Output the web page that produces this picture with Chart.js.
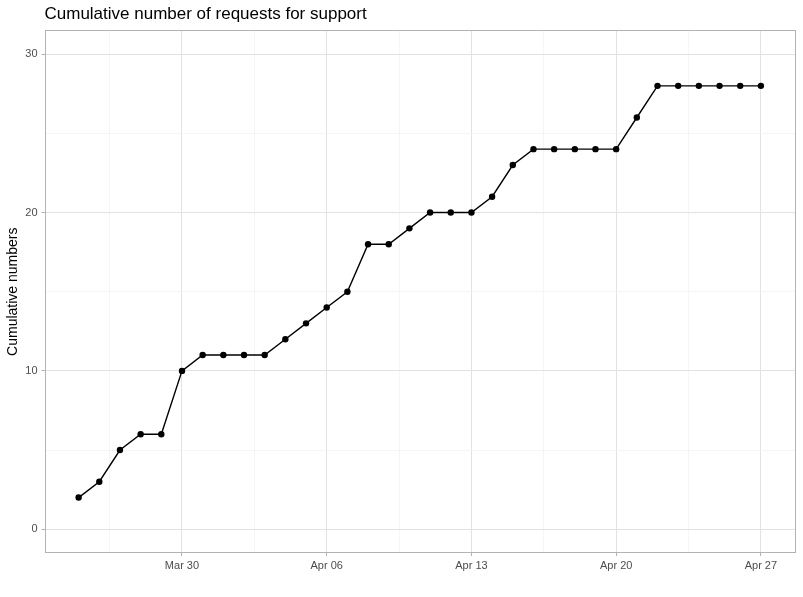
<!DOCTYPE html>
<html>
<head>
<meta charset="utf-8">
<script src="https://cdn.jsdelivr.net/npm/chart.js@4.4.1/dist/chart.umd.min.js"></script>
<style>
html,body{margin:0;padding:0;background:#fff;}
canvas{display:block;}
</style>
</head>
<body>
<canvas id="c" width="803" height="597"></canvas>
<script>
// ---- data ----
const dates = [
  '2020-03-25','2020-03-26','2020-03-27','2020-03-28','2020-03-29','2020-03-30','2020-03-31',
  '2020-04-01','2020-04-02','2020-04-03','2020-04-04','2020-04-05','2020-04-06','2020-04-07',
  '2020-04-08','2020-04-09','2020-04-10','2020-04-11','2020-04-12','2020-04-13','2020-04-14',
  '2020-04-15','2020-04-16','2020-04-17','2020-04-18','2020-04-19','2020-04-20','2020-04-21',
  '2020-04-22','2020-04-23','2020-04-24','2020-04-25','2020-04-26','2020-04-27'
];
const cumulative = [
  2,3,5,6,6,10,11,
  11,11,11,12,13,14,15,
  18,18,19,20,20,20,21,
  23,24,24,24,24,24,26,
  28,28,28,28,28,28
];
const xTickDates = ['2020-03-30','2020-04-06','2020-04-13','2020-04-20','2020-04-27'];
const xTickLabels = ['Mar 30','Apr 06','Apr 13','Apr 20','Apr 27'];
const yTickValues = [0,10,20,30];
const yMinorValues = [5,15,25];
const titleText = 'Cumulative number of requests for support';
const yTitleText = 'Cumulative numbers';

// ---- helpers ----
const DAY = 86400000;
const t0 = Date.parse(dates[0] + 'T00:00:00Z');
const dayOf = s => Math.round((Date.parse(s + 'T00:00:00Z') - t0) / DAY);
const points = dates.map((d, i) => ({x: dayOf(d), y: cumulative[i]}));
const xMajor = xTickDates.map(dayOf);
const xSpacing = xMajor[1] - xMajor[0];
const xFirst = dayOf(dates[0]), xLast = dayOf(dates[dates.length - 1]);
const xExp = (xLast - xFirst) * 0.05;
const xMin = xFirst - xExp, xMax = xLast + xExp;
const xMinor = [];
for (let v = xMajor[0] - xSpacing / 2; v < xMax; v += xSpacing) {
  if (v > xMin) xMinor.push(v);
}
const yLo = 0, yHi = 30, yExp = (yHi - yLo) * 0.05;

const isXMajor = v => xMajor.some(m => Math.abs(m - v) < 1e-6);
const isYMajor = v => yTickValues.some(m => Math.abs(m - v) < 1e-6);

const FONT = "'Liberation Sans', Arial, Helvetica, sans-serif";

const panelBorder = {
  id: 'panelBorder',
  afterLayout(chart) {
    if (chart.titleBlock) {
      chart.titleBlock.left = chart.chartArea.left;
    }
  },
  afterDatasetsDraw(chart) {
    const {ctx, chartArea: a} = chart;
    ctx.save();
    ctx.strokeStyle = '#B3B3B3';
    ctx.lineWidth = 1;
    ctx.strokeRect(Math.round(a.left) + 0.5, Math.round(a.top) + 0.5,
      Math.round(a.right - a.left) - 1, Math.round(a.bottom - a.top) - 1);
    ctx.restore();
  }
};

new Chart(document.getElementById('c'), {
  type: 'line',
  data: {
    datasets: [{
      data: points,
      borderColor: '#000000',
      backgroundColor: '#000000',
      borderWidth: 1.4,
      pointRadius: 3.2,
      pointHoverRadius: 3.2,
      pointBorderWidth: 0,
      pointBackgroundColor: '#000000',
      tension: 0,
      fill: false
    }]
  },
  options: {
    responsive: false,
    animation: false,
    events: [],
    layout: {padding: {left: 0, right: 8, top: 0, bottom: 0}},
    plugins: {
      legend: {display: false},
      tooltip: {enabled: false},
      title: {
        display: true,
        text: titleText,
        align: 'start',
        color: '#000000',
        font: {family: FONT, size: 17, weight: 'normal', lineHeight: 1.2},
        padding: {top: 4, bottom: 6}
      }
    },
    scales: {
      x: {
        type: 'linear',
        min: xMin,
        max: xMax,
        afterBuildTicks(scale) {
          const all = xMajor.concat(xMinor).sort((a, b) => a - b);
          scale.ticks = all.map(v => ({value: v}));
        },
        afterFit(scale) { scale.height = 597 - 553; },
        ticks: {
          autoSkip: false,
          maxRotation: 0,
          color: '#4D4D4D',
          font: {family: FONT, size: 11},
          padding: 3,
          callback(v) {
            const i = xMajor.findIndex(m => Math.abs(m - v) < 1e-6);
            return i >= 0 ? xTickLabels[i] : '';
          }
        },
        grid: {
          color: c => isXMajor(c.tick.value) ? '#E2E2E2' : '#F0F0F0',
          lineWidth: c => isXMajor(c.tick.value) ? 1 : 0.7,
          tickColor: c => isXMajor(c.tick.value) ? '#B3B3B3' : 'rgba(0,0,0,0)',
          tickLength: 3,
          tickWidth: 1,
          drawOnChartArea: true
        },
        border: {display: false}
      },
      y: {
        type: 'linear',
        min: yLo - yExp,
        max: yHi + yExp,
        afterBuildTicks(scale) {
          const all = yTickValues.concat(yMinorValues).sort((a, b) => a - b);
          scale.ticks = all.map(v => ({value: v}));
        },
        afterFit(scale) { scale.width = 44.5; },
        ticks: {
          autoSkip: false,
          color: '#4D4D4D',
          font: {family: FONT, size: 11},
          padding: 4,
          callback(v) { return isYMajor(v) ? String(v) : ''; }
        },
        grid: {
          color: c => isYMajor(c.tick.value) ? '#E2E2E2' : '#F0F0F0',
          lineWidth: c => isYMajor(c.tick.value) ? 1 : 0.7,
          tickColor: c => isYMajor(c.tick.value) ? '#B3B3B3' : 'rgba(0,0,0,0)',
          tickLength: 3,
          tickWidth: 1
        },
        border: {display: false},
        title: {
          display: true,
          text: yTitleText,
          color: '#000000',
          font: {family: FONT, size: 14, weight: 'normal'},
          padding: {top: 5, bottom: 0}
        }
      }
    }
  },
  plugins: [panelBorder]
});
</script>
</body>
</html>
